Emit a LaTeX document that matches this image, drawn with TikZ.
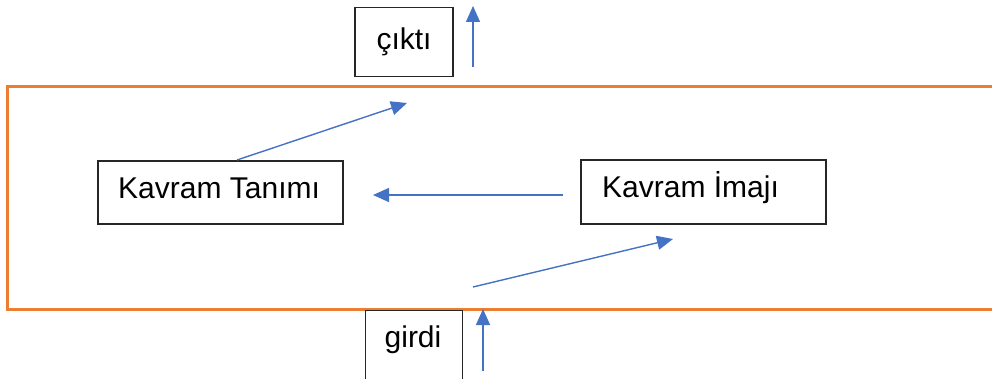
\documentclass[tikz,border=0pt]{standalone}
\usepackage{fontspec}
\setmainfont{Liberation Sans}
\usetikzlibrary{arrows.meta}
\definecolor{frameorange}{HTML}{ED7D31}
\definecolor{flowblue}{HTML}{4472C4}
\begin{document}
\begin{tikzpicture}[x=1pt,y=-1pt,
  labelbox/.style={draw=black!85,line width=1.2pt,fill=white,inner sep=0pt,
    font=\fontsize{30}{34}\selectfont},
  boxtext/.style={font=\fontsize{30}{34}\selectfont,inner sep=0pt},
  flow/.style={draw=flowblue,line width=1.4pt,
    -{Triangle[length=16pt,width=14pt]}},
  frame/.style={draw=frameorange,line width=3pt}]
\useasboundingbox (0,0) rectangle (992,379);
\clip (0,0) rectangle (992,379);

% system boundary (open to the right)
\draw[frame] (7,87) rectangle (1010,309);

% input / output labels
\node[labelbox,minimum width=98pt,minimum height=69pt] (out) at (404,42) {çıktı};
\node[labelbox,minimum width=97pt,minimum height=90pt,anchor=north west] (in) at (365,310) {};
\node[boxtext,anchor=base] (inlabel) at (413,347) {girdi};

% concept boxes
\node[labelbox,minimum width=245pt,minimum height=63pt] (tanim) at (220.5,192.5) {};
\node[boxtext,anchor=base west] (tanimtext) at (118,199) {Kavram Tanımı};
\node[labelbox,minimum width=245pt,minimum height=64pt] (imaj) at (703.5,192) {};
\node[boxtext,anchor=base west] (imajtext) at (602,198) {Kavram İmajı};

% arrow end points
\coordinate (outfoot) at (473,67);
\coordinate (outtip) at (473,6);
\coordinate (infoot) at (483,371);
\coordinate (intip) at (483,309);
\coordinate (tanimfoot) at (237,160);
\coordinate (tanimtip) at (407,103);
\coordinate (imajfoot) at (563,195);
\coordinate (imajtip) at (373,195);
\coordinate (entryfoot) at (473,287);
\coordinate (entrytip) at (673,239);

% flows
\draw[flow] (outfoot) -- (outtip);
\draw[flow] (infoot) -- (intip);
\draw[flow] (tanimfoot) -- (tanimtip);
\draw[flow] (imajfoot) -- (imajtip);
\draw[flow] (entryfoot) -- (entrytip);
\end{tikzpicture}
\end{document}
